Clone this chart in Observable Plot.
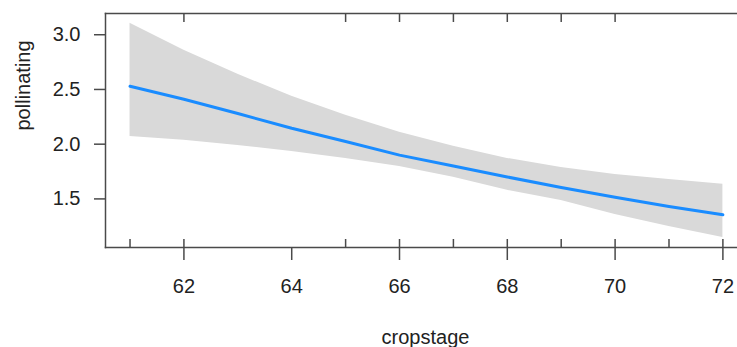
<!DOCTYPE html>
<html>
<head>
<meta charset="utf-8">
<script src="https://cdn.jsdelivr.net/npm/d3@7"></script>
<script src="https://cdn.jsdelivr.net/npm/@observablehq/plot@0.6"></script>
<style>
  html, body { margin: 0; padding: 0; background: #fff; overflow: hidden; }
  svg { display: block; }
</style>
</head>
<body>
<div id="chart"></div>
<script>
// cropstage values
const cropstage = [61, 62, 63, 64, 65, 66, 67, 68, 69, 70, 71, 72];
// fitted effect
const fit   = [2.529, 2.41, 2.28, 2.145, 2.025, 1.90, 1.80, 1.70, 1.605, 1.515, 1.43, 1.355];
// confidence band
const upper = [3.105, 2.858, 2.639, 2.437, 2.264, 2.108, 1.980, 1.870, 1.788, 1.724, 1.678, 1.633];
const lower = [2.071, 2.035, 1.989, 1.934, 1.870, 1.797, 1.697, 1.578, 1.486, 1.358, 1.248, 1.148];
// rug marks
const rugBottom = [61, 62, 65, 66, 67, 68, 69, 70, 71, 72];
const rugTop = [62, 65, 66, 67, 68, 69, 70];
// ticks
const xTicks = [62, 64, 66, 68, 70, 72];
const yTicks = [1.5, 2.0, 2.5, 3.0];

const data = cropstage.map((c, i) => ({cropstage: c, fit: fit[i], upper: upper[i], lower: lower[i]}));

const axisColor = "#4a4a4a";
const textColor = "#222";

const chart = Plot.plot({
  width: 737,
  height: 347,
  marginLeft: 105,
  marginRight: 0,
  marginTop: 13,
  marginBottom: 100,
  style: {fontFamily: "'Liberation Sans', Arial, sans-serif", fontSize: "20px", color: textColor, background: "#fff"},
  x: {domain: [60.545, 72.271]},
  y: {domain: [1.056, 3.194]},
  marks: [
    Plot.areaY(data, {x: "cropstage", y1: "lower", y2: "upper", fill: "#d9d9d9"}),
    Plot.line(data, {x: "cropstage", y: "fit", stroke: "#1a8cff", strokeWidth: 3}),
    Plot.tickX(rugBottom, {x: d => d, stroke: axisColor, strokeWidth: 1.5, insetTop: 226}),
    Plot.tickX(rugTop, {x: d => d, stroke: axisColor, strokeWidth: 1.5, insetBottom: 225}),
    Plot.frame({anchor: "left", stroke: axisColor, strokeWidth: 1.5}),
    Plot.frame({anchor: "top", stroke: axisColor, strokeWidth: 1.5}),
    Plot.frame({anchor: "bottom", stroke: axisColor, strokeWidth: 1.5}),
    Plot.axisX({ticks: xTicks, tickFormat: d3.format("d"), tickSize: 13, tickPadding: 18, stroke: axisColor, strokeWidth: 1.5, fill: textColor, label: null}),
    Plot.axisY({ticks: yTicks, tickFormat: d3.format(".1f"), tickSize: 11, tickPadding: 14, stroke: axisColor, strokeWidth: 1.5, fill: textColor, label: null}),
    Plot.text(["pollinating"], {frameAnchor: "left", text: d => d, rotate: -90, dx: -82, fill: textColor, fontSize: 20}),
    Plot.text(["cropstage"], {frameAnchor: "bottom", text: d => d, dx: 4, dy: 96, fill: textColor, fontSize: 20})
  ]
});
document.getElementById("chart").appendChild(chart);
</script>
</body>
</html>
